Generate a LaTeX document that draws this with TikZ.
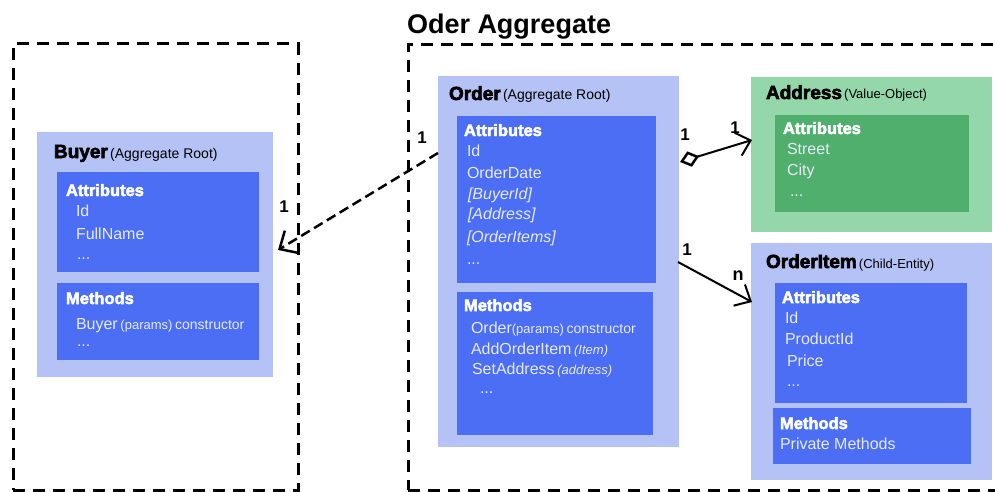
\documentclass[tikz,border=0pt]{standalone}
\usepackage{fontspec}
\setmainfont{Liberation Sans}
\newfontfamily\heavyfont[FakeBold=3]{Liberation Sans Bold}
\usetikzlibrary{arrows.meta,calc}
\newcommand\setpx[1]{\fontsize{#1}{#1}\selectfont}
\definecolor{outerblue}{HTML}{B4C2F5}
\definecolor{innerblue}{HTML}{4B6EF5}
\definecolor{outergreen}{HTML}{93D7AA}
\definecolor{innergreen}{HTML}{50AF6D}
\definecolor{itemtext}{HTML}{E6EAF8}
\begin{document}
\begin{tikzpicture}[x=1pt,y=-1pt,
  panel/.style={draw=none,inner sep=0,outer sep=0,anchor=north west},
  aggregate/.style={draw=black,line width=3pt,dash pattern=on 12pt off 8pt,
    inner sep=0,outer sep=0,anchor=north west},
  lbl/.style={anchor=base west,inner sep=0,outer sep=0},
  title/.style={lbl,text=black,font=\heavyfont\setpx{19}},
  sub/.style={lbl,text=black,font=\setpx{14}},
  head/.style={lbl,text=white,font=\heavyfont\setpx{16.5}},
  item/.style={lbl,text=itemtext,font=\setpx{16}},
  mult/.style={inner sep=0,outer sep=0,font=\bfseries\setpx{17}},
  link/.style={line width=2pt,black},
  barb/.style={-{Straight Barb[length=13pt,width=24pt,line width=2pt]}},
]
\useasboundingbox (0,0) rectangle (995,492);
\clip (0,0) rectangle (995,492);

% aggregate boundaries
\node[aggregate,minimum width=285,minimum height=446] (buyeragg) at (13,44) {};
\node[aggregate,minimum width=610,minimum height=445] (orderagg) at (408,45) {};
\node[lbl,font=\bfseries\setpx{27}] (aggtitle) at (407,34) {Oder Aggregate};

% Buyer
\node[panel,fill=outerblue,minimum width=236,minimum height=245] (buyer) at (37,132) {};
\node[panel,fill=innerblue,minimum width=202,minimum height=100] (buyerattr) at (57,172) {};
\node[panel,fill=innerblue,minimum width=202,minimum height=77] (buyermeth) at (57,283) {};
\node[title] (bt) at (54,158) {Buyer};
\node[sub] (bts) at (bt.base east) {\,(Aggregate Root)};
\node[head] (bah) at (66,196) {Attributes};
\node[item] (ba1) at (76,216) {Id};
\node[item] (ba2) at (76,239) {FullName};
\node[item] (ba3) at (77,259) {...};
\node[head] (bmh) at (66,304) {Methods};
\node[item] (bm1) at (76,329) {Buyer\,{\setpx{13}(params)}\,{\setpx{14}constructor}};
\node[item] (bm2) at (77,346) {...};

% Order
\node[panel,fill=outerblue,minimum width=241,minimum height=371] (order) at (438,76) {};
\node[panel,fill=innerblue,minimum width=199,minimum height=167] (orderattr) at (457,116) {};
\node[panel,fill=innerblue,minimum width=196,minimum height=143] (ordermeth) at (457,292) {};
\node[title] (ot) at (449,100) {Order};
\node[sub] (ots) at (ot.base east) {\,(Aggregate Root)};
\node[head] (oah) at (464,136) {Attributes};
\node[item] (oa1) at (467,156) {Id};
\node[item] (oa2) at (467,178) {OrderDate};
\node[item] (oa3) at (468,199) {\itshape [BuyerId]};
\node[item] (oa4) at (468,219) {\itshape [Address]};
\node[item] (oa5) at (467,242) {\itshape [OrderItems]};
\node[item] (oa6) at (467,264) {...};
\node[head] (omh) at (464,311) {Methods};
\node[item] (om1) at (471,333) {Order{\setpx{13}(params)}\,{\setpx{14}constructor}};
\node[item] (om2) at (471,354) {AddOrderItem\,{\itshape\setpx{13}(Item)}};
\node[item] (om3) at (472,374) {SetAddress\,{\itshape\setpx{13}(address)}};
\node[item] (om4) at (480,393) {...};

% Address
\node[panel,fill=outergreen,minimum width=241,minimum height=155] (address) at (751,77) {};
\node[panel,fill=innergreen,minimum width=194,minimum height=97] (addressattr) at (775,115) {};
\node[title] (at) at (766,99) {Address};
\node[sub,font=\setpx{13}] (ats) at (at.base east) {\,(Value-Object)};
\node[head] (aah) at (783,134) {Attributes};
\node[item] (aa1) at (787,154) {Street};
\node[item] (aa2) at (787,175) {City};
\node[item] (aa3) at (790,196) {...};

% OrderItem
\node[panel,fill=outerblue,minimum width=241,minimum height=237] (orderitem) at (751,243) {};
\node[panel,fill=innerblue,minimum width=192,minimum height=120] (itemattr) at (775,283) {};
\node[panel,fill=innerblue,minimum width=198,minimum height=56] (itemmeth) at (773,408) {};
\node[title] (it) at (766,268) {OrderItem};
\node[sub,font=\setpx{13}] (its) at (it.base east) {\,(Child-Entity)};
\node[head] (iah) at (782,303) {Attributes};
\node[item] (ia1) at (785,323) {Id};
\node[item] (ia2) at (785,344) {ProductId};
\node[item] (ia3) at (787,366) {Price};
\node[item] (ia4) at (787,386) {...};
\node[head] (imh) at (780,429) {Methods};
\node[item] (im1) at (780,449) {Private Methods};

% associations
\draw[link,line width=2.5pt,dash pattern=on 10pt off 5pt,
      -{Straight Barb[length=14pt,width=26pt,line width=2.5pt]}]
  ($(order.north west)+(0,77)$) -- ($(buyer.north east)+(5,118)$);
\draw[link,{Diamond[open,length=20pt,width=16pt,line width=2.5pt]}-{Straight Barb[length=13pt,width=24pt,line width=2pt]}]
  ($(order.north east)+(1,86)$) -- ($(address.north west)+(1,63)$);
\draw[link,barb]
  ($(order.north east)+(-1,186)$) -- ($(orderitem.north west)+(1,59)$);

% multiplicities
\node[mult] (m1) at (422,138) {1};
\node[mult] (m2) at (284,207) {1};
\node[mult] (m3) at (685,135) {1};
\node[mult] (m4) at (735,128) {1};
\node[mult] (m5) at (687,250) {1};
\node[mult,font=\bfseries\setpx{18}] (m6) at (738,276) {n};
\end{tikzpicture}
\end{document}
